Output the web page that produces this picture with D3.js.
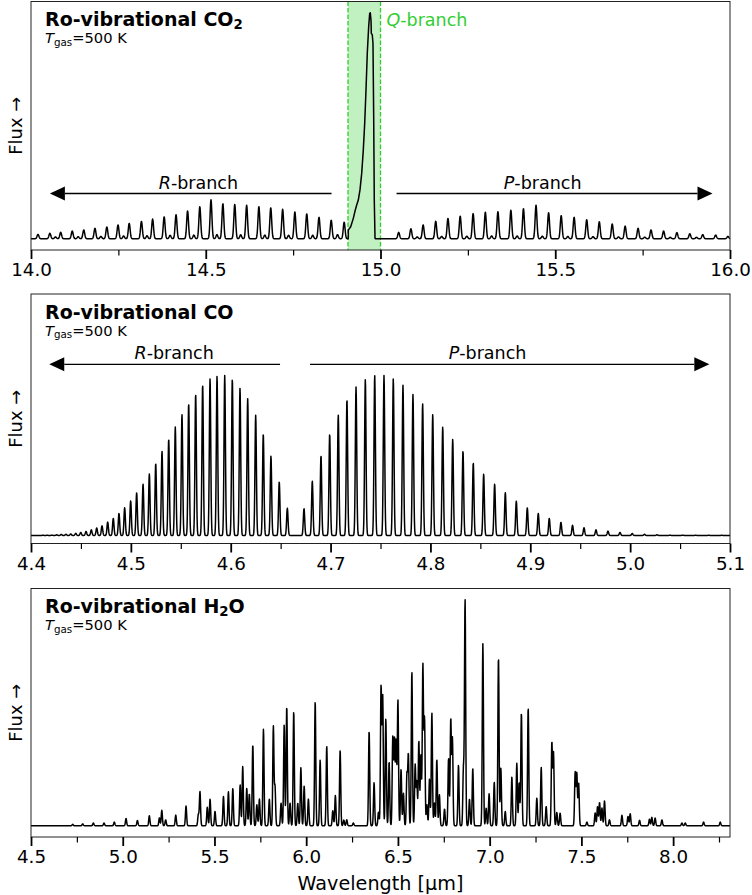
<!DOCTYPE html>
<html>
<head>
<meta charset="utf-8">
<script src="https://cdn.jsdelivr.net/npm/d3@7"></script>
<style>
	body { margin: 0; background: #fff; }
	text { font-family: 'DejaVu Sans', sans-serif; }
</style>
</head>
<body>
<div id="chart"></div>
<script>
// line lists: [wavelength (um), peak flux (normalised)]
const co2RBranch = [
	[14.020, 0.019], [14.054, 0.024], [14.085, 0.028], [14.118, 0.034], [14.151, 0.039],
	[14.183, 0.046], [14.217, 0.052], [14.249, 0.061], [14.281, 0.068], [14.316, 0.077],
	[14.348, 0.087], [14.381, 0.097], [14.415, 0.106], [14.448, 0.123], [14.483, 0.142],
	[14.515, 0.172], [14.549, 0.155], [14.583, 0.152], [14.617, 0.148], [14.652, 0.142],
	[14.686, 0.137], [14.720, 0.130], [14.755, 0.118], [14.789, 0.110], [14.824, 0.095],
	[14.859, 0.082], [14.896, 0.073],
];
const co2QBranch = [
	[14.9079, 0.038], [14.9147, 0.053], [14.9222, 0.090], [14.9279, 0.127], [14.9319, 0.149],
	[14.9365, 0.171], [14.9413, 0.216], [14.9462, 0.289], [14.9508, 0.393], [14.9548, 0.511],
	[14.9585, 0.658], [14.9622, 0.821], [14.9662, 0.939], [14.9691, 0.998], [14.9708, 1.000],
	[14.9728, 0.968], [14.9737, 0.909], [14.9765, 0.902], [14.9785, 0.865], [14.9805, 0.540],
	[14.9822, 0.171], [14.9843, 0.002],
];
const co2PBranch = [
	[15.052, 0.028], [15.087, 0.044], [15.122, 0.061], [15.158, 0.077], [15.193, 0.090],
	[15.228, 0.100], [15.265, 0.111], [15.300, 0.117], [15.336, 0.120], [15.373, 0.126],
	[15.409, 0.133], [15.445, 0.148], [15.481, 0.115], [15.517, 0.102], [15.554, 0.095],
	[15.590, 0.084], [15.626, 0.075], [15.663, 0.065], [15.700, 0.056], [15.737, 0.046],
	[15.774, 0.039], [15.810, 0.034], [15.848, 0.027], [15.885, 0.022], [15.922, 0.018],
	[15.959, 0.016], [15.994, 0.010],
];
// weak hot-band bumps between the main CO2 lines
const co2HotBand = [
	[14.070, 0.008], [14.135, 0.009], [14.200, 0.010], [14.265, 0.012], [14.332, 0.013],
	[14.398, 0.015], [14.466, 0.016], [14.532, 0.018], [14.600, 0.017], [14.669, 0.016],
	[14.737, 0.015], [14.806, 0.015], [14.877, 0.018], [15.105, 0.008], [15.175, 0.010],
	[15.247, 0.011], [15.318, 0.012], [15.391, 0.012], [15.463, 0.011], [15.536, 0.010],
	[15.608, 0.009], [15.681, 0.008], [15.756, 0.007], [15.829, 0.006], [15.904, 0.006],
];

const coRBranch = [
	[4.4120, 0.001], [4.4163, 0.001], [4.4210, 0.002], [4.4257, 0.004], [4.4303, 0.006],
	[4.4350, 0.007], [4.4398, 0.009], [4.4448, 0.013], [4.4498, 0.019], [4.4551, 0.025],
	[4.4604, 0.035], [4.4658, 0.046], [4.4711, 0.060], [4.4768, 0.083], [4.4824, 0.106],
	[4.4881, 0.137], [4.4938, 0.172], [4.4998, 0.215], [4.5058, 0.265], [4.5122, 0.319],
	[4.5185, 0.381], [4.5249, 0.447], [4.5312, 0.523], [4.5379, 0.598], [4.5445, 0.674],
	[4.5512, 0.751], [4.5579, 0.819], [4.5649, 0.879], [4.5719, 0.937], [4.5793, 0.974],
	[4.5863, 0.990], [4.5940, 0.994], [4.6016, 0.974], [4.6093, 0.916], [4.6170, 0.850],
	[4.6250, 0.747], [4.6326, 0.631], [4.6403, 0.493], [4.6486, 0.334], [4.6567, 0.169],
];
const coPBranch = [
	[4.6734, 0.167], [4.6817, 0.337], [4.6904, 0.496], [4.6991, 0.630], [4.7077, 0.748],
	[4.7164, 0.844], [4.7255, 0.922], [4.7348, 0.970], [4.7442, 0.995], [4.7535, 0.993],
	[4.7628, 0.974], [4.7725, 0.933], [4.7825, 0.875], [4.7922, 0.819], [4.8023, 0.751],
	[4.8123, 0.674], [4.8223, 0.598], [4.8326, 0.525], [4.8429, 0.451], [4.8533, 0.381],
	[4.8643, 0.319], [4.8750, 0.265], [4.8860, 0.213], [4.8970, 0.171], [4.9080, 0.137],
	[4.9190, 0.106], [4.9307, 0.081], [4.9423, 0.063], [4.9538, 0.048], [4.9658, 0.035],
	[4.9778, 0.027], [4.9898, 0.019], [5.0021, 0.012], [5.0144, 0.007], [5.0269, 0.004],
	[5.0399, 0.002], [5.0526, 0.002], [5.0656, 0.001], [5.0786, 0.001], [5.0917, 0.001],
];

const h2oLines = [
	[4.727, 0.006], [4.782, 0.008], [4.840, 0.012], [4.898, 0.012], [4.954, 0.016],
	[5.018, 0.032], [5.080, 0.023], [5.145, 0.044], [5.200, 0.035], [5.213, 0.068],
	[5.234, 0.026], [5.289, 0.047], [5.345, 0.087], [5.412, 0.049], [5.421, 0.151],
	[5.461, 0.082], [5.476, 0.118], [5.503, 0.063], [5.549, 0.129], [5.576, 0.151],
	[5.600, 0.166], [5.640, 0.181], [5.654, 0.262], [5.676, 0.166], [5.690, 0.141],
	[5.709, 0.360], [5.731, 0.093], [5.745, 0.118], [5.767, 0.428], [5.799, 0.118],
	[5.821, 0.440], [5.830, 0.173], [5.863, 0.100], [5.880, 0.446], [5.894, 0.529],
	[5.912, 0.100], [5.932, 0.507], [5.954, 0.100], [5.971, 0.257], [5.989, 0.176],
	[6.012, 0.118], [6.049, 0.551], [6.076, 0.291], [6.112, 0.353], [6.145, 0.066],
	[6.159, 0.134], [6.185, 0.334], [6.205, 0.025], [6.221, 0.026], [6.257, 0.012],
	[6.343, 0.420], [6.370, 0.191], [6.394, 0.060], [6.408, 0.615], [6.417, 0.573],
	[6.434, 0.475], [6.452, 0.284], [6.472, 0.394], [6.481, 0.379], [6.490, 0.376],
	[6.500, 0.556], [6.517, 0.250], [6.530, 0.144], [6.549, 0.225], [6.557, 0.313],
	[6.576, 0.684], [6.594, 0.269], [6.603, 0.195], [6.614, 0.376], [6.625, 0.313],
	[6.636, 0.710], [6.645, 0.471], [6.658, 0.093], [6.672, 0.206], [6.685, 0.500],
	[6.699, 0.100], [6.712, 0.294], [6.726, 0.137], [6.754, 0.074], [6.776, 0.299],
	[6.788, 0.471], [6.797, 0.384], [6.830, 0.269], [6.857, 0.250], [6.866, 1.000],
	[6.890, 0.118], [6.908, 0.254], [6.963, 0.806], [6.981, 0.078], [6.997, 0.141],
	[7.025, 0.193], [7.048, 0.747], [7.061, 0.254], [7.085, 0.063], [7.121, 0.215],
	[7.148, 0.276], [7.161, 0.191], [7.173, 0.500], [7.210, 0.523], [7.257, 0.122],
	[7.281, 0.259], [7.308, 0.085], [7.339, 0.368], [7.348, 0.321], [7.366, 0.059],
	[7.384, 0.056], [7.466, 0.235], [7.475, 0.232], [7.485, 0.188], [7.530, 0.016],
	[7.575, 0.056], [7.588, 0.085], [7.599, 0.103], [7.612, 0.078], [7.626, 0.110],
	[7.653, 0.026], [7.721, 0.046], [7.754, 0.041], [7.766, 0.053], [7.817, 0.024],
	[7.871, 0.029], [7.884, 0.037], [7.902, 0.034], [7.939, 0.026], [8.048, 0.012],
	[8.066, 0.012], [8.166, 0.016], [8.257, 0.016],
];

// tick labels
const co2Ticks = [14.0, 14.5, 15.0, 15.5, 16.0];
const co2Minor = [14.25, 14.75, 15.25, 15.75];
const coTicks = [4.4, 4.5, 4.6, 4.7, 4.8, 4.9, 5.0, 5.1];
const coMinor = [4.45, 4.55, 4.65, 4.75, 4.85, 4.95, 5.05];
const h2oTicks = [4.5, 5.0, 5.5, 6.0, 6.5, 7.0, 7.5, 8.0];
const h2oMinor = [4.75, 5.25, 5.75, 6.25, 6.75, 7.25, 7.75, 8.25];

const qBand = [14.907, 15.0];


const width = 752;
const height = 895;
const left = 31;
const right = 730;
const green = '#32cd32';

const svg = d3.select('#chart').append('svg')
	.attr('width', width)
	.attr('height', height);

// sum of gaussian line profiles on a fine wavelength grid
const spectrum = (lines, domain, sigma, n) => d3.range(n + 1).map(i => {
	const w = domain[0] + (domain[1] - domain[0]) * i / n;
	let f = 0;
	lines.forEach(([c, h]) => {
		const d = (w - c) / sigma;
		if (Math.abs(d) < 6) f += h * Math.exp(-0.5 * d * d);
	});
	return [w, f];
});

const panels = [
	{
		top: 1.5, bottom: 250, xDomain: [14.0, 16.0], yDomain: [-0.05, 1.05],
		ticks: co2Ticks, minor: co2Minor, sigma: 0.0026,
		lines: co2RBranch.concat(co2PBranch, co2HotBand), envelope: co2QBranch,
		title: 'Ro-vibrational CO', sub: '2', tail: '',
		arrows: [
			{ from: 14.86, to: 14.054, y: 0.2, label: 'R', at: 14.479 },
			{ from: 15.046, to: 15.95, y: 0.2, label: 'P', at: 15.464 },
		],
	},
	{
		top: 294, bottom: 543.5, xDomain: [4.4, 5.1], yDomain: [-0.05, 1.5],
		ticks: coTicks, minor: coMinor, sigma: 0.0007,
		lines: coRBranch.concat(coPBranch),
		title: 'Ro-vibrational CO', sub: '', tail: '',
		arrows: [
			{ from: 4.6494, to: 4.4183, y: 1.063, label: 'R', at: 4.5434 },
			{ from: 4.6794, to: 5.0793, y: 1.063, label: 'P', at: 4.8572 },
		],
	},
	{
		top: 588.5, bottom: 837, xDomain: [4.5, 8.31], yDomain: [-0.05, 1.05],
		ticks: h2oTicks, minor: h2oMinor, sigma: 0.0032,
		lines: h2oLines,
		title: 'Ro-vibrational H', sub: '2', tail: 'O',
		arrows: [],
	},
];

panels.forEach(p => {
	const x = d3.scaleLinear().domain(p.xDomain).range([left, right]);
	const y = d3.scaleLinear().domain(p.yDomain).range([p.bottom, p.top]);
	const g = svg.append('g');

	// Q-branch band
	if (p.envelope) {
		g.append('rect')
			.attr('x', x(qBand[0]))
			.attr('y', p.top)
			.attr('width', x(qBand[1]) - x(qBand[0]))
			.attr('height', p.bottom - p.top)
			.style('fill', green)
			.style('fill-opacity', 0.3);
		g.selectAll('.qedge')
			.data(qBand)
			.enter().append('line')
				.attr('x1', d => x(d))
				.attr('x2', d => x(d))
				.attr('y1', p.top)
				.attr('y2', p.bottom)
				.style('stroke', green)
				.style('stroke-width', 1.3)
				.style('stroke-dasharray', '4.5,2');
		const q = g.append('text')
			.attr('x', x(15.017))
			.attr('y', p.top + 24.5)
			.style('font-size', '17.5px')
			.style('fill', green);
		q.append('tspan').style('font-style', 'italic').text('Q');
		q.append('tspan').text('-branch');
	}

	// spectrum
	let data = spectrum(p.lines, p.xDomain, p.sigma, 2800);
	if (p.envelope) {
		const lo = p.envelope[0][0];
		const hi = p.envelope[p.envelope.length - 1][0];
		data = data.filter(d => d[0] < lo || d[0] > hi).concat(p.envelope)
			.sort((a, b) => a[0] - b[0]);
	}
	g.append('path')
		.datum(data)
		.attr('d', d3.line().x(d => x(d[0])).y(d => y(d[1])))
		.style('fill', 'none')
		.style('stroke', '#000')
		.style('stroke-width', 1.5)
		.style('stroke-linejoin', 'round');

	// branch arrows
	p.arrows.forEach(a => {
		const y0 = y(a.y);
		const x0 = x(a.from);
		const x1 = x(a.to);
		const dir = Math.sign(x1 - x0);
		const head = 15;
		g.append('line')
			.attr('x1', x0).attr('x2', x1 - dir * head)
			.attr('y1', y0).attr('y2', y0)
			.style('stroke', '#000')
			.style('stroke-width', 1.3);
		g.append('path')
			.attr('d', `M${x1},${y0}L${x1 - dir * head},${y0 - 7}L${x1 - dir * head},${y0 + 7}Z`)
			.style('fill', '#000');
		const t = g.append('text')
			.attr('x', x(a.at))
			.attr('y', y0 - 5)
			.attr('text-anchor', 'middle')
			.style('font-size', '17.5px');
		t.append('tspan').style('font-style', 'italic').text(a.label);
		t.append('tspan').text('-branch');
	});

	// frame
	g.append('rect')
		.attr('x', left)
		.attr('y', p.top)
		.attr('width', right - left)
		.attr('height', p.bottom - p.top)
		.style('fill', 'none')
		.style('stroke', '#222')
		.style('stroke-width', 1);

	// axes
	const major = g.append('g')
		.attr('transform', `translate(0, ${p.bottom})`)
		.call(d3.axisBottom(x).tickValues(p.ticks).tickFormat(d3.format('.1f'))
			.tickSize(9).tickSizeOuter(0).tickPadding(4.5));
	major.select('.domain').remove();
	major.selectAll('line').style('stroke-width', 1.8);
	major.selectAll('text')
		.style('font-family', "'DejaVu Sans', sans-serif")
		.style('font-size', '18.3px')
		.style('fill', '#000');
	const minor = g.append('g')
		.attr('transform', `translate(0, ${p.bottom})`)
		.call(d3.axisBottom(x).tickValues(p.minor).tickFormat('').tickSize(5.5).tickSizeOuter(0));
	minor.select('.domain').remove();
	minor.selectAll('line').style('stroke-width', 1.2);

	// titles
	const title = g.append('text')
		.attr('x', 45)
		.attr('y', p.top + 24.5)
		.style('font-size', '19px')
		.style('font-weight', 'bold');
	title.append('tspan').text(p.title);
	if (p.sub) {
		title.append('tspan').attr('dy', 2.7).style('font-size', '13.3px').text(p.sub);
		title.append('tspan').attr('dy', -2.7).text(p.tail);
	}
	const sub = g.append('text')
		.attr('x', 45)
		.attr('y', p.top + 41.5)
		.style('font-size', '14.7px');
	sub.append('tspan').style('font-style', 'italic').text('T');
	sub.append('tspan').attr('dy', 2.5).style('font-size', '10.3px').text('gas');
	sub.append('tspan').attr('dy', -2.5).text('=500 K');

	// y label
	g.append('text')
		.attr('transform', `translate(22, ${(p.top + p.bottom) / 2}) rotate(-90)`)
		.attr('text-anchor', 'middle')
		.style('font-size', '17.9px')
		.text('Flux \u2192');
});

svg.append('text')
	.attr('x', (left + right) / 2)
	.attr('y', 890)
	.attr('text-anchor', 'middle')
	.style('font-size', '19.2px')
	.text('Wavelength [\u00b5m]');
</script>
</body>
</html>
